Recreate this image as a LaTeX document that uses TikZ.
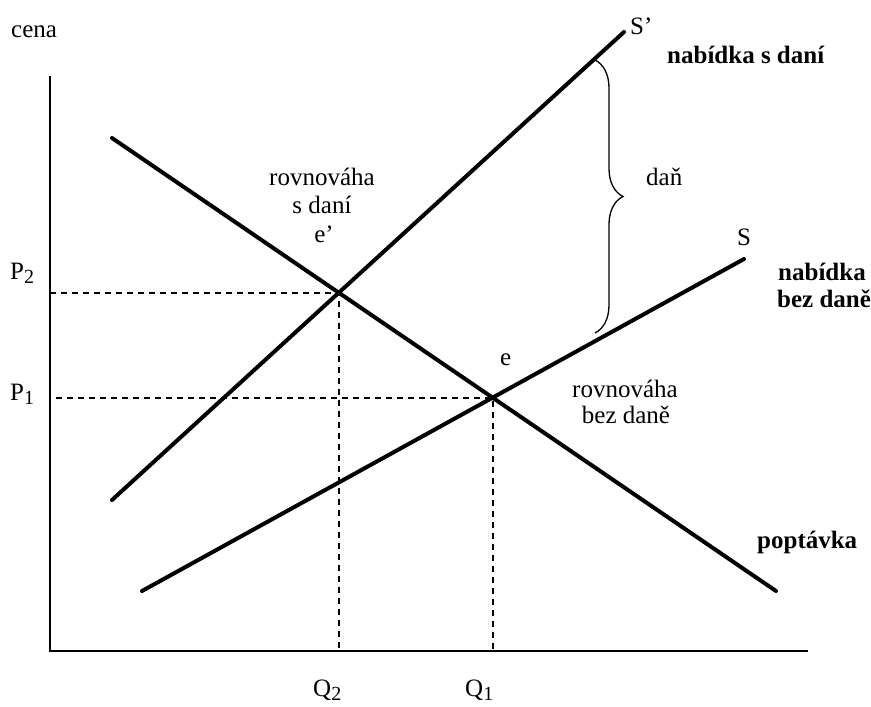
\documentclass[tikz,border=0pt]{standalone}
\usepackage{fontspec}
\setmainfont{Liberation Serif}
\usetikzlibrary{decorations.pathreplacing}
\newcommand{\subnum}[1]{\raisebox{-4pt}{\fontsize{20}{20}\selectfont #1}}
\begin{document}
\begin{tikzpicture}[x=1pt,y=-1pt,
  curve/.style={line width=4pt, line cap=round},
  axis/.style={line width=2.6pt},
  guide/.style={line width=1.8pt, dash pattern=on 6pt off 5pt},
  bracestyle/.style={line width=1.3pt, decorate, decoration={brace, amplitude=28pt, aspect=0.5}},
  lbl/.style={font=\fontsize{25}{28}\selectfont, inner sep=0pt},
  blbl/.style={font=\fontsize{25}{28}\selectfont\bfseries, inner sep=0pt}]
\useasboundingbox (0,0) rectangle (871,707);
% axes
\coordinate (O) at (50,651);
\coordinate (Ytop) at (50,76);
\coordinate (Xend) at (808,651);
\draw[axis] (Ytop) -- (O) -- (Xend);
% curves
\coordinate (D1) at (112,138); \coordinate (D2) at (776,591);
\coordinate (T1) at (112,500); \coordinate (T2) at (624,32);
\coordinate (S1) at (142,591); \coordinate (S2) at (744,259);
\draw[curve] (D1) -- (D2);
\draw[curve] (T1) -- (T2);
\draw[curve] (S1) -- (S2);
% equilibria
\coordinate (ep) at (339,292.7);
\coordinate (e) at (492.7,397.6);
\coordinate (P2a) at (50,292.7);
\coordinate (Q2a) at (339,651);
\coordinate (P1a) at (56,397.6);
\coordinate (Q1a) at (492.7,651);
\draw[guide] (P2a) -- (ep) -- (Q2a);
\draw[guide] (P1a) -- (e) -- (Q1a);
% brace
\coordinate (Btop) at (595,60);
\coordinate (Bbot) at (595,333);
\draw[bracestyle] (Btop) -- (Bbot);
% labels
\node[lbl, anchor=base west] (cena) at (11,37) {cena};
\node[lbl, anchor=base west] (Sp) at (630,34) {S’};
\node[blbl, anchor=base west] (nsd) at (667,63) {nabídka s daní};
\node[lbl, anchor=base west] (dan) at (646,185) {daň};
\node[lbl, anchor=base west] (Slbl) at (737,245) {S};
\node[blbl, anchor=base west] (nbd1) at (778,280) {nabídka};
\node[blbl, anchor=base west] (nbd2) at (777,307) {bez daně};
\node[lbl, anchor=base] (rsd1) at (322,185) {rovnováha};
\node[lbl, anchor=base] (rsd2) at (322,213) {s daní};
\node[lbl, anchor=base] (rsd3) at (324,242) {e’};
\node[lbl, anchor=base west] (elbl) at (500,365) {e};
\node[lbl, anchor=base] (rbd1) at (625,397) {rovnováha};
\node[lbl, anchor=base] (rbd2) at (626,423) {bez daně};
\node[blbl, anchor=base west] (popt) at (757,548) {poptávka};
\node[lbl, anchor=base west] (P2) at (10,279) {P\subnum{2}};
\node[lbl, anchor=base west] (P1) at (10,400) {P\subnum{1}};
\node[lbl, anchor=base west] (Q2) at (313,696) {Q\subnum{2}};
\node[lbl, anchor=base west] (Q1) at (465,696) {Q\subnum{1}};
\end{tikzpicture}
\end{document}
